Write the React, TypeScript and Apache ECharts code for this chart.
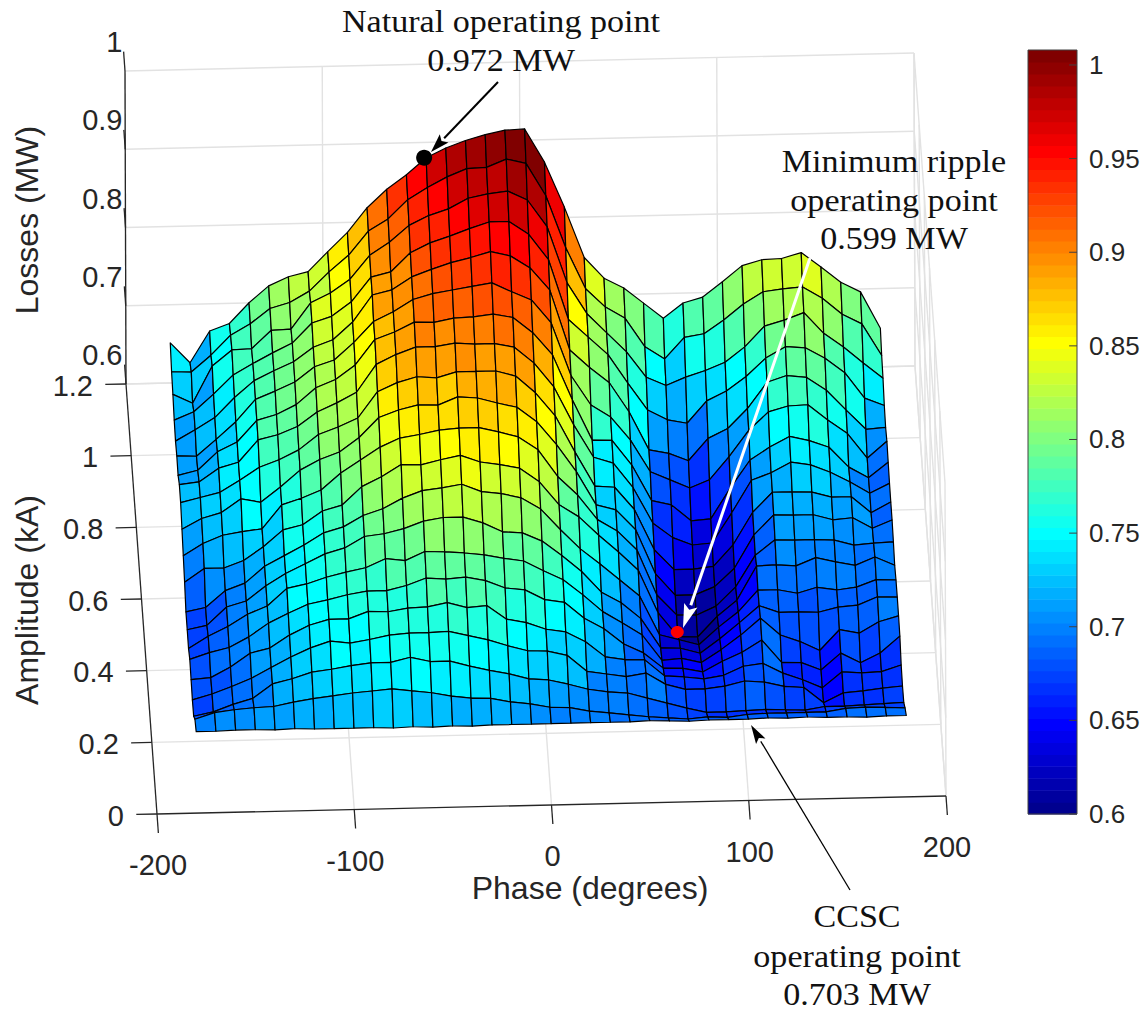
import React, { useEffect, useRef } from "react";
import * as echarts from "echarts";

const phases = [-180,-170,-160,-150,-140,-130,-120,-110,-100,-90,-80,-70,-60,-50,-40,-30,-20,-10,0,10,20,30,40,50,60,70,80,90,100,110,120,130,140,150,160,170,180];
const amplitudes = [0,0.05,0.1,0.15,0.2,0.25,0.3,0.35,0.4,0.45,0.5,0.55,0.6,0.65,0.7,0.75,0.8,0.85,0.9,0.95,1];

// losses (MW): one list per phase, from amplitude 0 to amplitude 1
const lossesByPhase = [
[.704,.697,.678,.676,.679,.682,.673,.674,.674,.689,.700,.711,.722,.722,.711,.713,.709,.713,.723,.729,.743],
[.704,.705,.683,.683,.681,.690,.688,.679,.679,.706,.715,.724,.728,.725,.717,.712,.723,.723,.711,.728,.717],
[.705,.708,.692,.692,.694,.696,.700,.702,.700,.706,.725,.731,.734,.742,.740,.733,.738,.745,.758,.749,.757],
[.705,.710,.699,.702,.711,.709,.715,.709,.709,.715,.729,.748,.749,.749,.752,.755,.763,.769,.778,.774,.766],
[.704,.711,.717,.715,.717,.726,.725,.728,.730,.732,.732,.743,.765,.777,.779,.783,.784,.783,.779,.788,.792],
[.705,.716,.723,.728,.733,.738,.747,.743,.743,.753,.762,.762,.774,.783,.786,.793,.796,.796,.802,.807,.813],
[.704,.720,.731,.739,.745,.749,.752,.755,.756,.759,.770,.783,.786,.793,.798,.804,.807,.808,.803,.814,.824],
[.704,.723,.734,.747,.752,.754,.760,.767,.771,.776,.780,.796,.805,.811,.819,.823,.825,.833,.836,.828,.830],
[.704,.726,.738,.744,.752,.760,.766,.774,.778,.783,.801,.805,.814,.822,.829,.831,.834,.841,.848,.852,.855],
[.704,.728,.741,.748,.761,.764,.771,.788,.792,.806,.817,.823,.825,.835,.847,.853,.856,.859,.865,.873,.879],
[.703,.730,.741,.753,.760,.764,.782,.791,.800,.818,.833,.848,.858,.870,.879,.879,.890,.890,.895,.903,.910],
[.704,.727,.747,.755,.764,.770,.779,.797,.813,.833,.844,.857,.869,.882,.888,.891,.896,.896,.911,.918,.933],
[.703,.724,.741,.755,.765,.779,.790,.806,.822,.832,.848,.863,.876,.891,.900,.906,.912,.920,.932,.942,.951],
[.704,.719,.741,.756,.770,.777,.789,.810,.825,.838,.853,.862,.874,.891,.899,.913,.921,.932,.944,.957,.972],
[.703,.716,.734,.750,.763,.779,.787,.810,.829,.843,.855,.872,.881,.895,.904,.917,.929,.940,.952,.970,.984],
[.704,.715,.728,.744,.765,.774,.784,.802,.819,.834,.855,.870,.881,.893,.905,.921,.935,.949,.965,.980,.993],
[.704,.710,.723,.736,.747,.764,.779,.790,.816,.830,.849,.863,.881,.893,.908,.925,.942,.957,.970,.981,1.000],
[.704,.707,.716,.729,.742,.761,.775,.788,.810,.825,.842,.857,.874,.888,.903,.913,.936,.957,.973,.991,1.005],
[.704,.702,.714,.728,.733,.748,.762,.777,.795,.807,.825,.838,.852,.867,.883,.902,.920,.940,.961,.985,1.006],
[.704,.701,.708,.722,.729,.744,.750,.758,.768,.777,.790,.808,.822,.836,.854,.872,.891,.907,.926,.943,.963],
[.704,.696,.701,.701,.716,.723,.730,.737,.743,.761,.766,.773,.775,.787,.796,.804,.814,.830,.854,.876,.905],
[.704,.693,.697,.697,.696,.709,.708,.710,.723,.737,.734,.730,.731,.745,.744,.766,.791,.807,.814,.823,.840],
[.704,.690,.695,.693,.692,.689,.693,.696,.702,.715,.719,.723,.729,.737,.743,.750,.771,.784,.789,.799,.813],
[.705,.687,.688,.697,.691,.677,.677,.675,.681,.691,.694,.697,.700,.705,.711,.720,.733,.747,.764,.784,.800],
[.704,.685,.681,.682,.670,.657,.644,.637,.631,.636,.636,.640,.648,.659,.665,.679,.684,.712,.731,.747,.780],
[.703,.683,.674,.675,.668,.656,.646,.636,.624,.605,.610,.612,.622,.640,.659,.668,.679,.699,.720,.731,.760],
[.704,.685,.668,.675,.665,.651,.640,.629,.617,.604,.609,.612,.622,.630,.638,.657,.669,.694,.730,.758,.779],
[.704,.684,.668,.678,.669,.664,.656,.647,.639,.630,.620,.622,.625,.632,.640,.667,.697,.722,.738,.762,.786],
[.704,.687,.669,.684,.680,.675,.674,.667,.658,.650,.644,.645,.652,.670,.679,.696,.709,.734,.748,.779,.805],
[.705,.688,.670,.682,.683,.690,.695,.688,.685,.693,.684,.687,.693,.711,.714,.729,.734,.752,.767,.799,.825],
[.704,.688,.669,.676,.670,.661,.673,.679,.685,.694,.703,.712,.718,.720,.730,.752,.767,.775,.793,.814,.832],
[.705,.688,.668,.674,.661,.660,.664,.679,.680,.692,.702,.711,.718,.733,.743,.759,.775,.789,.800,.817,.833],
[.704,.688,.672,.654,.650,.650,.652,.678,.687,.702,.702,.711,.717,.729,.737,.760,.772,.787,.809,.819,.840],
[.704,.692,.672,.666,.670,.671,.678,.684,.683,.696,.701,.704,.710,.719,.728,.740,.755,.773,.782,.804,.821],
[.703,.693,.673,.668,.668,.658,.673,.686,.686,.691,.694,.706,.710,.706,.702,.722,.729,.754,.764,.783,.801],
[.704,.692,.674,.671,.669,.670,.687,.696,.695,.701,.696,.692,.689,.691,.688,.690,.704,.721,.743,.770,.788],
[.704,.691,.675,.673,.677,.691,.694,.695,.694,.690,.697,.702,.702,.703,.707,.711,.706,.711,.723,.729,.741],
];

const phaseTicks = [-200,-100,0,100,200];
const amplitudeTicks = [0,0.2,0.4,0.6,0.8,1,1.2];
const lossTicks = [0.6,0.7,0.8,0.9,1];
const colorbarTicks = [0.6,0.65,0.7,0.75,0.8,0.85,0.9,0.95,1];
const naturalPoint = [-51,1,0.972];
const minRipplePoint = [70,0.476,0.599];

const SANS = "'Liberation Sans', Arial, sans-serif";
const SERIF = "'Liberation Serif', serif";
const INK = "#262626";
const COLOR_MIN = 0.6;
const COLOR_MAX = 1.008;
const LEVELS = 64;

function clamp01(v: number) { return Math.max(0, Math.min(1, v)); }
function jet(k: number) {
  const r = k <= 40 ? clamp01((k - 24) / 16) : clamp01(1 - (k - 56) / 16);
  const g = k <= 24 ? clamp01((k - 8) / 16) : clamp01(1 - (k - 40) / 16);
  const b = k <= 8 ? 0.5 + k / 16 : clamp01(1 - (k - 24) / 16);
  return `rgb(${Math.round(r * 255)},${Math.round(g * 255)},${Math.round(b * 255)})`;
}
function colorOf(z: number) {
  const k = Math.floor(((z - COLOR_MIN) / (COLOR_MAX - COLOR_MIN)) * LEVELS) + 1;
  return jet(Math.max(1, Math.min(LEVELS, k)));
}

// orthographic view of the axes box
function project(phase: number, amp: number, z: number): [number, number] {
  const u = (phase + 200) / 400, v = amp / 1.2, w = (z - 0.6) / 0.4;
  return [157 + 789 * u - 31 * v - 1 * w, 814 - 18 * u - 430 * v - 313 * w];
}

type Seg = [number, number, number, number, number, number];
const gridSegs: Seg[] = [];
phaseTicks.forEach((p) => {
  if (p > -200) gridSegs.push([p, 0, 0.6, p, 1.2, 0.6]);
  gridSegs.push([p, 1.2, 0.6, p, 1.2, 1]);
});
amplitudeTicks.forEach((a) => {
  if (a > 0) gridSegs.push([-200, a, 0.6, 200, a, 0.6]);
  gridSegs.push([200, a, 0.6, 200, a, 1]);
});
lossTicks.forEach((z) => {
  gridSegs.push([-200, 1.2, z, 200, 1.2, z]);
  gridSegs.push([200, 0, z, 200, 1.2, z]);
});
const axisSegs: Seg[] = [
  [-200, 0, 0.6, 200, 0, 0.6],
  [-200, 0, 0.6, -200, 1.2, 0.6],
  [-200, 1.2, 0.6, -200, 1.2, 1],
];
phaseTicks.forEach((p) => axisSegs.push([p, 0, 0.6, p, -0.053, 0.6]));
amplitudeTicks.forEach((a) => axisSegs.push([-200, a, 0.6, -210.5, a, 0.6]));
lossTicks.forEach((z) => axisSegs.push([-200, 1.2, z, -200, 1.254, z]));

const cells: number[][] = [];
for (let j = amplitudes.length - 2; j >= 0; j--) {
  for (let i = 0; i < phases.length - 1; i++) cells.push([i, j]);
}
const colorLevels: number[][] = [];
for (let k = 1; k <= LEVELS; k++) colorLevels.push([k]);

function arrow(x1: number, y1: number, x2: number, y2: number, color: string, width: number, len: number, half: number) {
  const d = Math.hypot(x2 - x1, y2 - y1);
  const ux = (x2 - x1) / d, uy = (y2 - y1) / d;
  const bx = x2 - ux * len, by = y2 - uy * len;
  return [
    { type: "line", z: 20, shape: { x1, y1, x2: bx, y2: by }, style: { stroke: color, lineWidth: width } },
    { type: "polygon", z: 20, shape: { points: [[x2, y2], [bx - uy * half, by + ux * half], [x2 - ux * len * 0.8, y2 - uy * len * 0.8], [bx + uy * half, by - ux * half]] }, style: { fill: color } },
  ];
}
function label(text: string, x: number, y: number, fontSize: number, align = "center", rotation = 0) {
  return { type: "text", z: 21, x, y, rotation, style: { text, fill: INK, font: `${fontSize}px ${SANS}`, textAlign: align, textVerticalAlign: "middle" } };
}
function note(text: string, x: number, y: number) {
  return { type: "text", z: 21, x, y, scaleX: 1.1, style: { text, fill: "#111", font: `31px ${SERIF}`, textAlign: "center", textVerticalAlign: "middle" } };
}

function segmentSeries(segs: Seg[], color: string, width: number, z: number) {
  return {
    type: "custom", xAxisIndex: 0, yAxisIndex: 0, z, clip: false, silent: true,
    data: segs.map((_, k) => [k]),
    renderItem: (_p: any, api: any) => {
      const s = segs[api.value(0)];
      const a = api.coord(project(s[0], s[1], s[2]));
      const b = api.coord(project(s[3], s[4], s[5]));
      return { type: "line", shape: { x1: a[0], y1: a[1], x2: b[0], y2: b[1] }, style: { stroke: color, lineWidth: width, fill: "none" } };
    },
  };
}
function pointSeries(pt: number[], color: string, rx: number, ry: number, z: number) {
  return {
    type: "custom", xAxisIndex: 0, yAxisIndex: 0, z, clip: false, silent: true,
    data: [pt],
    renderItem: (_p: any, api: any) => {
      const c = api.coord(project(api.value(0), api.value(1), api.value(2)));
      return { type: "ellipse", shape: { cx: c[0], cy: c[1], rx, ry }, style: { fill: color } };
    },
  };
}

function buildOption() {
  const elements: any[] = [];
  phaseTicks.forEach((p) => {
    const [x, y] = project(p, 0, 0.6);
    elements.push(label(String(p), x + 1, y + 51, 29));
  });
  amplitudeTicks.forEach((a) => {
    const [x, y] = project(-200, a, 0.6);
    elements.push(label(String(a), x - 33, y + 1.5, 29, "right"));
  });
  lossTicks.forEach((z) => {
    const [, y] = project(-200, 1.2, z);
    elements.push(label(String(z), 122.5, y - 29, 29, "right"));
  });
  elements.push(label("Phase (degrees)", 590, 888, 32));
  elements.push(label("Losses (MW)", 27, 220, 32, "center", Math.PI / 2));
  elements.push(label("Amplitude (kA)", 27, 600, 32, "center", Math.PI / 2));
  elements.push(note("Natural operating point", 501, 22), note("0.972 MW", 501, 61));
  elements.push(note("Minimum ripple", 894, 162), note("operating point", 894, 201), note("0.599 MW", 894, 239));
  elements.push(note("CCSC", 857, 917), note("operating point", 857, 957), note("0.703 MW", 857, 995));
  elements.push(...arrow(498, 82, 431, 152, "#000", 2, 19, 6));
  elements.push(...arrow(810, 258, 683, 628, "#fff", 3, 24, 7));
  elements.push(...arrow(850, 890, 751, 725, "#000", 1.3, 19, 5.5));

  return {
    animation: false,
    backgroundColor: "#fff",
    grid: [
      { left: 0, top: 0, width: 1146, height: 1011, show: false },
      { left: 1028, top: 50, width: 49, height: 764, show: false },
    ],
    xAxis: [
      { type: "value", gridIndex: 0, min: 0, max: 1146, show: false },
      { type: "value", gridIndex: 1, min: 0, max: 1, show: false },
    ],
    yAxis: [
      { type: "value", gridIndex: 0, min: 0, max: 1011, inverse: true, show: false },
      {
        type: "value", gridIndex: 1, position: "right", min: COLOR_MIN, max: COLOR_MAX, z: 6,
        axisLine: { show: false },
        axisTick: { show: false },
        splitLine: { show: false },
        axisLabel: { show: true, customValues: colorbarTicks, margin: 12, color: INK, fontSize: 26, fontFamily: SANS, formatter: (v: number) => String(v) },
      },
    ],
    series: [
      segmentSeries(gridSegs, "#e2e2e2", 1.4, 1),
      segmentSeries(axisSegs, INK, 1.3, 2),
      {
        type: "custom", xAxisIndex: 0, yAxisIndex: 0, z: 3, clip: false, silent: true,
        data: cells,
        renderItem: (_p: any, api: any) => {
          const i = api.value(0), j = api.value(1);
          const corners = [[i, j], [i + 1, j], [i + 1, j + 1], [i, j + 1]];
          const points = corners.map(([a, b]) => api.coord(project(phases[a], amplitudes[b], lossesByPhase[a][b])));
          return { type: "polygon", shape: { points }, style: { fill: colorOf(lossesByPhase[i][j + 1]), stroke: "#000", lineWidth: 1.2, lineJoin: "round" } };
        },
      },
      pointSeries(naturalPoint, "#000", 8, 8, 5),
      pointSeries(minRipplePoint, "#ff0000", 6.5, 6, 25),
      {
        type: "custom", xAxisIndex: 1, yAxisIndex: 1, z: 4, silent: true,
        data: colorLevels,
        renderItem: (_p: any, api: any) => {
          const k = api.value(0);
          const step = (COLOR_MAX - COLOR_MIN) / LEVELS;
          const a = api.coord([0, COLOR_MIN + (k - 1) * step]);
          const b = api.coord([1, COLOR_MIN + k * step]);
          return { type: "rect", shape: { x: a[0], y: b[1], width: b[0] - a[0], height: a[1] - b[1] + 0.6 }, style: { fill: jet(k) } };
        },
      },
      {
        type: "custom", xAxisIndex: 1, yAxisIndex: 1, z: 5, silent: true, clip: false,
        data: colorbarTicks.map((v) => [v]),
        renderItem: (_p: any, api: any) => {
          const a = api.coord([0.84, api.value(0)]);
          const b = api.coord([1, api.value(0)]);
          return { type: "line", shape: { x1: a[0], y1: a[1], x2: b[0], y2: b[1] }, style: { stroke: "#404040", lineWidth: 1, fill: "none" } };
        },
      },
      {
        type: "custom", xAxisIndex: 1, yAxisIndex: 1, z: 5, silent: true, clip: false,
        data: [[0]],
        renderItem: (_p: any, api: any) => {
          const a = api.coord([0, COLOR_MIN]);
          const b = api.coord([1, COLOR_MAX]);
          return { type: "rect", shape: { x: a[0], y: b[1], width: b[0] - a[0], height: a[1] - b[1] }, style: { fill: "none", stroke: "#404040", lineWidth: 1 } };
        },
      },
    ],
    graphic: { elements },
  };
}

export default function App() {
  const ref = useRef<HTMLDivElement>(null);
  useEffect(() => {
    const chart = echarts.init(ref.current!, undefined, { renderer: "svg" });
    chart.setOption(buildOption() as any);
    return () => chart.dispose();
  }, []);
  return <div ref={ref} style={{ position: "fixed", left: 0, top: 0, width: 1146, height: 1011 }} />;
}
